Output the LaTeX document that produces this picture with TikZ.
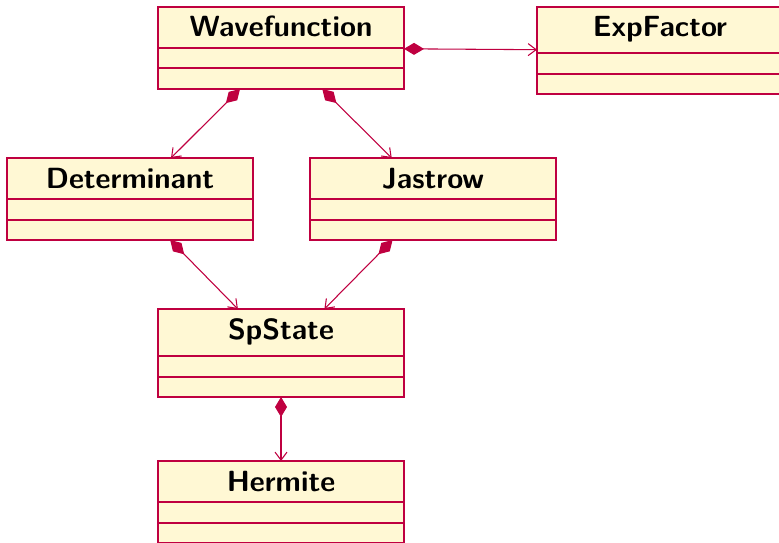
\documentclass[tikz,border=0pt]{standalone}
\usetikzlibrary{arrows.meta}

\definecolor{umldraw}{RGB}{191,0,64}
\definecolor{umlfill}{RGB}{255,248,212}

% one length unit of the picture
\newcommand\pxu{0.375pt}

\tikzset{
  classframe/.style={draw=umldraw, fill=umlfill, rectangle, inner sep=0pt, outer sep=0pt, line width=0.4pt},
  classtitle/.style={anchor=base, inner sep=0pt, font=\sffamily\bfseries\fontsize{10.95}{13}\selectfont},
  classrule/.style={draw=umldraw, line width=0.4pt},
  compo/.style={draw=umldraw, line width=0.4pt,
    {Diamond[length=7.5pt,width=4.5pt,fill=umldraw]}-{Straight Barb[length=3pt,width=4.5pt]}},
}

% #1 name, #2 left, #3 right, #4 top, #5 first rule, #6 second rule, #7 bottom, #8 class name
\newcommand\umlclass[8]{%
  \node[classframe, minimum width={(#3-#2)*\pxu}, minimum height={(#7-#4)*\pxu}]
    (#1) at ({(#2+#3)/2},{(#4+#7)/2}) {};
  \node[classtitle] (#1-name) at ({(#2+#3)/2},{#4+30}) {#8};
  \draw[classrule] (#1.west |- 0,#5) -- (#1.east |- 0,#5)
                   (#1.west |- 0,#6) -- (#1.east |- 0,#6);
}

\begin{document}
\begin{tikzpicture}[x=\pxu, y=-\pxu]
  \clip (0,0) rectangle (779,542);

  \umlclass{wf}{158}{404}{7}{48}{68}{89}{Wavefunction}
  \umlclass{exp}{537}{783}{7}{53}{74}{94}{ExpFactor}
  \umlclass{det}{7}{253}{158}{199}{220}{240}{Determinant}
  \umlclass{jas}{310}{556}{158}{199}{220}{240}{Jastrow}
  \umlclass{sp}{158}{404}{309}{356}{377}{397}{SpState}
  \umlclass{her}{158}{404}{461}{502}{523}{543}{Hermite}

  % composition links
  \draw[compo] (wf) -- (exp);
  \draw[compo] (wf) -- (det);
  \draw[compo] (wf) -- (jas);
  \draw[compo] (det) -- (sp);
  \draw[compo] (jas) -- (sp);
  \draw[compo] (sp) -- (her);
\end{tikzpicture}
\end{document}
